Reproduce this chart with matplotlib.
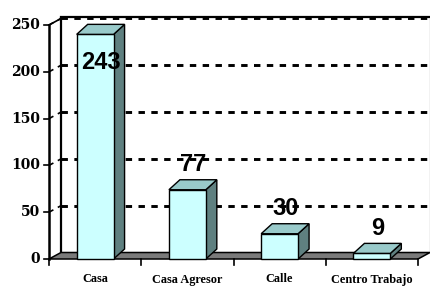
import matplotlib
matplotlib.use("Agg")
import matplotlib.pyplot as plt
from matplotlib.patches import Polygon

categories = ["Casa", "Casa Agresor", "Calle", "Centro Trabajo"]
values = [243, 77, 30, 9]
yticks = [0, 50, 100, 150, 200, 250]

W, H = 430, 287
fig = plt.figure(figsize=(W / 100, H / 100), dpi=100)
fig.patch.set_facecolor("white")

# plot area (front plane) in pixel terms
L, R, B, T = 49, 418, 259, 25
ax = fig.add_axes([L / W, (H - B) / H, (R - L) / W, (B - T) / H])
n = len(categories)
ymax = 250
ax.set_xlim(0, n)
ax.set_ylim(0, ymax)
ax.axis("off")

sx = n / (R - L)          # data units per px (x)
sy = ymax / (B - T)       # data units per px (y)
fdx, fdy = 12 * sx, 6.5 * sy   # wall/floor depth
bdx, bdy = 11 * sx, 10 * sy    # bar depth

dash = (0, (2.2, 2.2))

# back wall gridlines
for v in yticks[1:]:
    ax.plot([fdx, n + fdx], [v + fdy, v + fdy], color="black", lw=2.1,
            linestyle=dash, clip_on=False, zorder=1)
    ax.plot([0, fdx], [v, v + fdy], color="black", lw=1.2,
            linestyle=(0, (3, 3)), clip_on=False, zorder=1)
# top border of back wall
ax.plot([fdx, n + fdx], [ymax + fdy + 1.0 * sy, ymax + fdy + 1.0 * sy],
        color="black", lw=1.6, clip_on=False, zorder=1)
ax.plot([0, fdx], [ymax, ymax + fdy], color="black", lw=1.2, clip_on=False, zorder=1)
# right wall edge
ax.plot([n + fdx, n + fdx], [fdy, ymax + fdy], color="#c0c0c0", lw=1.0,
        clip_on=False, zorder=1)
# back-left wall edge
ax.plot([fdx, fdx], [fdy, ymax + fdy], color="black", lw=1.6, clip_on=False, zorder=1)

# floor
floor = Polygon([(0, 0), (n, 0), (n + fdx, fdy), (fdx, fdy)], closed=True,
                facecolor="#7a7a7a", edgecolor="black", lw=1.1, clip_on=False, zorder=2)
ax.add_patch(floor)

# front value axis
ax.plot([0, 0], [0, ymax], color="black", lw=1.8, clip_on=False, zorder=6)
for v in yticks:
    ax.plot([-5 * sx, 0], [v, v], color="black", lw=1.2, clip_on=False, zorder=6)
    ax.text(-9 * sx, v, str(v), ha="right", va="center", fontsize=10,
            fontweight="bold", family="DejaVu Serif", clip_on=False)
# category ticks
for i in range(n + 1):
    ax.plot([i, i], [0, -6 * sy], color="black", lw=1.2, clip_on=False, zorder=6)
for i, c in enumerate(categories):
    ax.text(i + 0.5, -20.5 * sy, c, ha="center", va="center", fontsize=8.8,
            fontweight="bold", family="Liberation Serif", clip_on=False)

# bars
hw = 0.2
front_c, top_c, side_c = "#ccffff", "#99caca", "#5f8080"
for i, v in enumerate(values):
    c = i + 0.5
    l, r = c - hw, c + hw
    top = v - 3
    front = Polygon([(l, 0), (r, 0), (r, top), (l, top)], closed=True,
                    facecolor=front_c, edgecolor="black", lw=1.0, clip_on=False, zorder=4)
    side = Polygon([(r, 0), (r + bdx, bdy), (r + bdx, top + bdy), (r, top)], closed=True,
                   facecolor=side_c, edgecolor="black", lw=1.0, clip_on=False, zorder=4)
    topf = Polygon([(l, top), (r, top), (r + bdx, top + bdy), (l + bdx, top + bdy)],
                   closed=True, facecolor=top_c, edgecolor="black", lw=1.0,
                   clip_on=False, zorder=4)
    for p in (side, front, topf):
        ax.add_patch(p)
    ly = min(v + 24, 210)
    ax.text(c + bdx / 2, ly, str(v), ha="center", va="center", fontsize=17,
            fontweight="bold", family="Liberation Sans", zorder=7, clip_on=False)

fig.savefig("out.png", dpi=100, facecolor="white")
